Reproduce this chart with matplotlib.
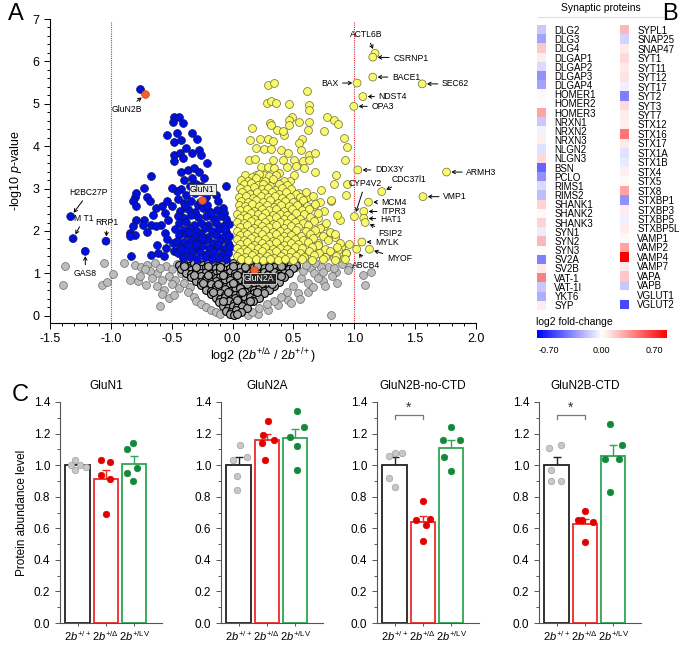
import matplotlib
matplotlib.use('Agg')
import matplotlib.pyplot as plt
import numpy as np
from matplotlib.colors import LinearSegmentedColormap
from matplotlib.lines import Line2D
from matplotlib.ticker import MultipleLocator

plt.rcParams['font.family'] = ['Liberation Sans', 'DejaVu Sans']
plt.rcParams['mathtext.fontset'] = 'custom'
plt.rcParams['mathtext.rm'] = 'Liberation Sans'
plt.rcParams['mathtext.it'] = 'Liberation Sans:italic'
plt.rcParams['mathtext.bf'] = 'Liberation Sans:bold'

# ---------------- DATA: volcano (panel A) ----------------
blue_pts = [
    (-0.76, 5.36),
    (-0.48, 4.70), (-0.44, 4.70), (-0.49, 4.58), (-0.41, 4.54), (-0.33, 4.30), (-0.46, 4.32), (-0.535, 4.27),
    (-0.48, 4.11), (-0.29, 4.17), (-0.425, 4.15), (-0.385, 3.95), (-0.275, 3.92), (-0.33, 3.84), (-0.26, 3.80),
    (-0.485, 3.80), (-0.43, 3.84), (-0.48, 3.64), (-0.41, 3.72), (-0.21, 3.60), (-0.37, 3.44), (-0.425, 3.40),
    (-0.315, 3.48), (-0.275, 3.40), (-0.67, 3.30), (-0.233, 3.25), (-0.055, 3.07), (-0.397, 3.21), (-0.33, 3.25),
    (-0.35, 3.05), (-0.30, 3.10), (-0.26, 3.05), (-0.42, 3.00), (-0.46, 2.95), (-0.50, 3.02), (-0.38, 2.85),
    (-0.31, 2.90), (-0.18, 2.95), (-0.14, 2.85), (-0.22, 2.80), (-0.45, 2.75), (-0.50, 2.60), (-0.40, 2.65),
    (-0.34, 2.70), (-0.28, 2.62), (-0.12, 2.70), (-0.08, 2.55),
    (-0.80, 2.81), (-0.82, 2.70), (-0.79, 2.60), (-0.70, 2.81), (-0.68, 2.70), (-0.63, 2.54), (-0.576, 2.60),
    (-0.535, 2.70), (-0.557, 2.42), (-0.53, 2.25), (-0.59, 2.15), (-0.65, 2.37), (-0.73, 2.27), (-0.796, 2.25),
    (-0.82, 2.11), (-0.74, 2.15), (-0.67, 2.15), (-0.63, 2.12), (-0.84, 1.95), (-0.80, 1.91), (-0.70, 1.97),
    (-0.84, 1.88), (-0.557, 1.95), (-0.535, 1.80), (-0.62, 1.68), (-0.55, 1.60), (-0.49, 1.71), (-0.837, 1.40),
    (-0.67, 1.44), (-0.61, 1.48), (-0.56, 1.42), (-0.48, 1.52), (-0.73, 3.01), (-0.79, 2.89),
    (-0.43, 2.48), (-0.37, 2.52), (-0.31, 2.45), (-0.24, 2.55), (-0.19, 2.47), (-0.13, 2.50), (-0.07, 2.42),
    (-0.45, 2.35), (-0.40, 2.30), (-0.34, 2.38), (-0.28, 2.33), (-0.22, 2.36), (-0.16, 2.30), (-0.10, 2.35), (-0.05, 2.28),
    (-0.44, 2.18), (-0.38, 2.22), (-0.32, 2.15), (-0.26, 2.20), (-0.20, 2.13), (-0.14, 2.19), (-0.08, 2.12), (-0.03, 2.17),
    (-0.47, 2.05), (-0.41, 2.02), (-0.35, 2.07), (-0.29, 2.01), (-0.23, 2.06), (-0.17, 2.00), (-0.11, 2.04), (-0.05, 1.98),
    (-0.44, 1.90), (-0.38, 1.93), (-0.32, 1.87), (-0.26, 1.92), (-0.20, 1.86), (-0.14, 1.91), (-0.08, 1.85), (-0.03, 1.89),
    (-0.46, 1.77), (-0.40, 1.74), (-0.34, 1.79), (-0.28, 1.73), (-0.22, 1.78), (-0.16, 1.72), (-0.10, 1.77), (-0.04, 1.71),
    (-0.43, 1.62), (-0.37, 1.65), (-0.31, 1.60), (-0.25, 1.64), (-0.19, 1.59), (-0.13, 1.63), (-0.07, 1.58), (-0.02, 1.62),
    (-0.45, 1.49), (-0.39, 1.52), (-0.33, 1.47), (-0.27, 1.51), (-0.21, 1.46), (-0.15, 1.50), (-0.09, 1.45), (-0.04, 1.49),
    (-0.41, 1.36), (-0.35, 1.39), (-0.29, 1.34), (-0.23, 1.38), (-0.17, 1.33), (-0.11, 1.37), (-0.05, 1.34),
    (-0.39, 2.58), (-0.27, 2.68), (-0.21, 2.62), (-0.36, 1.98), (-0.25, 1.83), (-0.12, 1.66), (-0.30, 1.70),
    (-0.18, 2.42), (-0.06, 2.05), (-0.42, 1.57),
]

yellow_pts = [
    (0.288, 5.45), (0.337, 5.50), (0.609, 5.31), (0.283, 5.03), (0.316, 5.07), (0.357, 5.01), (0.461, 4.99),
    (0.625, 4.98), (0.625, 4.86), (0.488, 4.68), (0.461, 4.62), (0.549, 4.57), (0.631, 4.57), (0.774, 4.70),
    (0.831, 4.62), (0.87, 4.53), (0.307, 4.54), (0.316, 4.49), (0.159, 4.43), (0.362, 4.39), (0.466, 4.49),
    (0.617, 4.39), (0.755, 4.36), (0.425, 4.27), (0.411, 4.35), (0.914, 4.20), (0.143, 4.15), (0.225, 4.17),
    (0.288, 4.17), (0.335, 4.13), (0.568, 4.17), (0.549, 4.07), (0.938, 3.98), (0.192, 3.95), (0.26, 3.94),
    (0.316, 3.93), (0.398, 3.91), (0.453, 3.84), (0.563, 3.91), (0.631, 3.80), (0.678, 3.84), (0.137, 3.68),
    (0.184, 3.69), (0.329, 3.68), (0.411, 3.68), (0.508, 3.68), (0.576, 3.64), (0.63, 3.68), (0.924, 3.68),
    (0.233, 3.52), (0.288, 3.52), (0.343, 3.48), (0.447, 3.52), (0.521, 3.53), (0.584, 3.48), (0.192, 3.33),
    (0.26, 3.33), (0.384, 3.37), (0.508, 3.33), (0.678, 3.38), (0.851, 3.31), (0.173, 3.17), (0.233, 3.17),
    (0.316, 3.21), (0.398, 3.13), (0.474, 3.17), (0.727, 2.97), (0.831, 3.11), (0.151, 2.97), (0.22, 2.97),
    (0.288, 2.93), (0.37, 2.93), (0.549, 2.89), (0.617, 2.81), (0.94, 3.11), (0.754, 2.11), (0.81, 1.95),
    (0.842, 1.85), (0.892, 1.63), (0.932, 1.48), (0.864, 1.56), (0.782, 1.87), (0.686, 1.95), (0.70, 1.71),
    (0.617, 1.79), (0.658, 1.56), (0.576, 1.48), (0.508, 1.63), (0.782, 1.48), (0.837, 1.36), (0.919, 1.36),
    (0.74, 1.36), (0.645, 1.36), (0.595, 2.50), (0.672, 2.58), (0.576, 2.70), (0.81, 2.70), (0.70, 2.31),
    (0.508, 2.23), (0.453, 2.34), (0.37, 2.42), (0.93, 2.85), (0.88, 2.25), (0.96, 1.70),
    (0.10, 3.31), (0.16, 3.27), (0.22, 3.34), (0.30, 3.29), (0.36, 3.33),
    (0.07, 3.21), (0.13, 3.18), (0.19, 3.24), (0.27, 3.19), (0.33, 3.22), (0.42, 3.17),
    (0.09, 3.10), (0.15, 3.13), (0.21, 3.08), (0.25, 3.12), (0.31, 3.07), (0.38, 3.11), (0.45, 3.09),
    (0.06, 3.01), (0.12, 2.98), (0.18, 3.03), (0.24, 2.99), (0.29, 3.02), (0.35, 2.97), (0.41, 3.01), (0.48, 2.98),
    (0.08, 2.91), (0.14, 2.88), (0.20, 2.93), (0.26, 2.89), (0.32, 2.92), (0.38, 2.87), (0.44, 2.91), (0.52, 2.88), (0.60, 2.92),
    (0.05, 2.80), (0.11, 2.83), (0.17, 2.78), (0.23, 2.82), (0.29, 2.79), (0.35, 2.83), (0.41, 2.78), (0.47, 2.81), (0.55, 2.79), (0.66, 2.83),
    (0.07, 2.71), (0.13, 2.68), (0.19, 2.73), (0.25, 2.69), (0.31, 2.72), (0.37, 2.67), (0.43, 2.71), (0.50, 2.68), (0.58, 2.72), (0.72, 2.69), (0.81, 2.73),
    (0.05, 2.61), (0.10, 2.58), (0.16, 2.63), (0.22, 2.59), (0.28, 2.62), (0.34, 2.57), (0.40, 2.61), (0.46, 2.58), (0.53, 2.62), (0.61, 2.59), (0.68, 2.63),
    (0.06, 2.50), (0.12, 2.53), (0.18, 2.48), (0.24, 2.52), (0.30, 2.49), (0.36, 2.53), (0.42, 2.48), (0.49, 2.51), (0.57, 2.49), (0.63, 2.53), (0.75, 2.48),
    (0.04, 2.41), (0.09, 2.38), (0.15, 2.43), (0.21, 2.39), (0.27, 2.42), (0.33, 2.37), (0.39, 2.41), (0.45, 2.38), (0.52, 2.42), (0.59, 2.39), (0.70, 2.43), (0.86, 2.38),
    (0.06, 2.30), (0.12, 2.33), (0.18, 2.28), (0.24, 2.32), (0.30, 2.29), (0.36, 2.33), (0.42, 2.28), (0.48, 2.31), (0.55, 2.29), (0.64, 2.33),
    (0.04, 2.21), (0.09, 2.18), (0.15, 2.23), (0.21, 2.19), (0.27, 2.22), (0.33, 2.17), (0.39, 2.21), (0.45, 2.18), (0.51, 2.22), (0.58, 2.19), (0.67, 2.23), (0.77, 2.18),
    (0.06, 2.10), (0.12, 2.13), (0.18, 2.08), (0.24, 2.12), (0.30, 2.09), (0.36, 2.13), (0.42, 2.08), (0.48, 2.11), (0.54, 2.09), (0.62, 2.13), (0.72, 2.08),
    (0.04, 2.01), (0.09, 1.98), (0.15, 2.03), (0.21, 1.99), (0.27, 2.02), (0.33, 1.97), (0.39, 2.01), (0.45, 1.98), (0.52, 2.02), (0.60, 1.99), (0.68, 2.03), (0.80, 1.98),
    (0.06, 1.90), (0.12, 1.93), (0.18, 1.88), (0.24, 1.92), (0.30, 1.89), (0.36, 1.93), (0.42, 1.88), (0.48, 1.91), (0.56, 1.89), (0.64, 1.93), (0.74, 1.88), (0.84, 1.92),
    (0.04, 1.81), (0.09, 1.78), (0.15, 1.83), (0.21, 1.79), (0.27, 1.82), (0.33, 1.77), (0.39, 1.81), (0.45, 1.78), (0.51, 1.82), (0.58, 1.79), (0.66, 1.83), (0.78, 1.78),
    (0.06, 1.70), (0.12, 1.73), (0.18, 1.68), (0.24, 1.72), (0.30, 1.69), (0.36, 1.73), (0.42, 1.68), (0.48, 1.71), (0.54, 1.69), (0.62, 1.73), (0.70, 1.68), (0.88, 1.72),
    (0.04, 1.61), (0.09, 1.58), (0.15, 1.63), (0.21, 1.59), (0.27, 1.62), (0.33, 1.57), (0.39, 1.61), (0.45, 1.58), (0.51, 1.62), (0.57, 1.59), (0.65, 1.63), (0.76, 1.58), (0.86, 1.62),
    (0.06, 1.50), (0.12, 1.53), (0.18, 1.48), (0.24, 1.52), (0.30, 1.49), (0.36, 1.53), (0.42, 1.48), (0.48, 1.51), (0.55, 1.49), (0.63, 1.53), (0.71, 1.48), (0.80, 1.52), (0.93, 1.48),
    (0.04, 1.41), (0.10, 1.38), (0.16, 1.43), (0.22, 1.39), (0.28, 1.42), (0.34, 1.37), (0.40, 1.41), (0.46, 1.38), (0.52, 1.42), (0.59, 1.39), (0.67, 1.43), (0.76, 1.38), (0.85, 1.42),
    (0.07, 1.33), (0.13, 1.32), (0.19, 1.34), (0.25, 1.32), (0.31, 1.33), (0.37, 1.32), (0.43, 1.34), (0.50, 1.32), (0.57, 1.33), (0.65, 1.32), (0.74, 1.34), (0.84, 1.32), (0.92, 1.33),
]

gray_pts = [
    (-1.38, 1.18), (-1.39, 0.73), (-1.057, 1.24), (-1.07, 0.73), (-1.035, 0.79), (-0.98, 0.99), (-0.89, 1.24),
    (-0.84, 0.85), (-0.78, 0.81), (-0.71, 0.73), (-0.80, 1.20), (-0.754, 1.16), (-0.70, 1.20), (-0.64, 1.24),
    (-0.60, 0.24), (-0.617, 1.01), (-0.58, 0.85), (-0.62, 0.70), (-0.56, 0.62), (-0.52, 0.42), (-0.76, 0.93),
    (-0.68, 1.05), (-0.55, 1.18), (-0.50, 1.10), (-0.52, 0.95), (-0.47, 0.85), (-0.50, 0.75), (-0.44, 0.65),
    (-0.46, 1.22), (-0.40, 1.15), (-0.42, 1.02), (-0.38, 0.92), (-0.40, 0.78), (-0.35, 0.68), (-0.37, 0.55),
    (-0.32, 0.45), (-0.30, 0.35), (-0.26, 0.28), (-0.22, 0.20), (-0.18, 0.14), (-0.14, 0.08), (-0.10, 0.04),
    (-0.60, 1.12), (-0.66, 0.90), (-0.72, 1.10), (-0.58, 0.52), (-0.48, 0.50),
    (0.81, 0.02), (0.85, 1.04), (0.96, 1.16), (1.07, 0.97), (1.14, 1.04), (0.74, 0.81), (0.617, 0.57),
    (0.535, 0.53), (0.453, 0.37), (0.37, 0.25), (0.288, 0.13), (0.206, 0.05), (0.123, 0.02), (0.78, 1.16),
    (0.837, 1.12), (0.727, 1.16), (0.645, 1.12), (0.672, 1.00), (0.74, 1.04), (0.563, 0.89), (0.95, 1.08),
    (1.09, 0.73), (0.86, 0.78), (0.90, 1.22), (0.70, 0.90), (0.62, 0.78), (0.58, 1.05), (0.66, 0.68),
    (0.50, 0.70), (0.45, 0.55), (0.40, 0.45), (0.34, 0.35), (0.28, 0.28), (0.22, 0.18), (0.16, 0.10),
    (0.55, 0.40), (0.48, 0.30), (0.60, 1.20), (0.52, 1.15), (0.68, 1.24), (0.82, 0.95), (0.76, 0.70),
]

dense_pts = [
    (-0.44, 1.20), (-0.40, 1.23), (-0.36, 1.18), (-0.32, 1.24), (-0.28, 1.21), (-0.24, 1.19), (-0.20, 1.25),
    (-0.16, 1.22), (-0.12, 1.17), (-0.08, 1.23), (-0.04, 1.20), (0.00, 1.24), (0.04, 1.18), (0.08, 1.22),
    (0.12, 1.25), (0.16, 1.19), (0.20, 1.23), (0.24, 1.21), (0.28, 1.17), (0.32, 1.24), (0.36, 1.20),
    (0.40, 1.22), (0.44, 1.18), (0.48, 1.23), (0.52, 1.19),
    (-0.42, 1.11), (-0.38, 1.14), (-0.34, 1.09), (-0.30, 1.13), (-0.26, 1.10), (-0.22, 1.15), (-0.18, 1.08),
    (-0.14, 1.12), (-0.10, 1.14), (-0.06, 1.09), (-0.02, 1.13), (0.02, 1.10), (0.06, 1.14), (0.10, 1.08),
    (0.14, 1.12), (0.18, 1.15), (0.22, 1.09), (0.26, 1.13), (0.30, 1.10), (0.34, 1.14), (0.38, 1.08),
    (0.42, 1.12), (0.46, 1.10), (0.50, 1.13),
    (-0.38, 1.02), (-0.34, 0.99), (-0.30, 1.04), (-0.26, 1.00), (-0.22, 1.03), (-0.18, 0.98), (-0.14, 1.02),
    (-0.10, 1.05), (-0.06, 0.99), (-0.02, 1.03), (0.02, 1.00), (0.06, 1.04), (0.10, 0.98), (0.14, 1.02),
    (0.18, 1.05), (0.22, 0.99), (0.26, 1.03), (0.30, 1.00), (0.34, 1.04), (0.38, 0.98), (0.42, 1.02), (0.46, 1.00),
    (-0.34, 0.92), (-0.30, 0.89), (-0.26, 0.94), (-0.22, 0.90), (-0.18, 0.93), (-0.14, 0.88), (-0.10, 0.92),
    (-0.06, 0.95), (-0.02, 0.89), (0.02, 0.93), (0.06, 0.90), (0.10, 0.94), (0.14, 0.88), (0.18, 0.92),
    (0.22, 0.95), (0.26, 0.89), (0.30, 0.93), (0.34, 0.90), (0.38, 0.94), (0.42, 0.91),
    (-0.30, 0.82), (-0.26, 0.79), (-0.22, 0.84), (-0.18, 0.80), (-0.14, 0.83), (-0.10, 0.78), (-0.06, 0.82),
    (-0.02, 0.85), (0.02, 0.79), (0.06, 0.83), (0.10, 0.80), (0.14, 0.84), (0.18, 0.78), (0.22, 0.82),
    (0.26, 0.85), (0.30, 0.79), (0.34, 0.83), (0.38, 0.80),
    (-0.26, 0.72), (-0.22, 0.69), (-0.18, 0.74), (-0.14, 0.70), (-0.10, 0.73), (-0.06, 0.68), (-0.02, 0.72),
    (0.02, 0.75), (0.06, 0.69), (0.10, 0.73), (0.14, 0.70), (0.18, 0.74), (0.22, 0.68), (0.26, 0.72),
    (0.30, 0.75), (0.34, 0.70),
    (-0.22, 0.62), (-0.18, 0.59), (-0.14, 0.64), (-0.10, 0.60), (-0.06, 0.63), (-0.02, 0.58), (0.02, 0.62),
    (0.06, 0.65), (0.10, 0.59), (0.14, 0.63), (0.18, 0.60), (0.22, 0.64), (0.26, 0.58), (0.30, 0.62),
    (-0.18, 0.52), (-0.14, 0.49), (-0.10, 0.54), (-0.06, 0.50), (-0.02, 0.53), (0.02, 0.48), (0.06, 0.52),
    (0.10, 0.55), (0.14, 0.49), (0.18, 0.53), (0.22, 0.50), (0.26, 0.54),
    (-0.14, 0.42), (-0.10, 0.39), (-0.06, 0.44), (-0.02, 0.40), (0.02, 0.43), (0.06, 0.38), (0.10, 0.42),
    (0.14, 0.45), (0.18, 0.39), (0.22, 0.43),
    (-0.11, 0.32), (-0.07, 0.29), (-0.03, 0.34), (0.01, 0.30), (0.05, 0.33), (0.09, 0.28), (0.13, 0.32), (0.17, 0.35),
    (-0.08, 0.22), (-0.04, 0.19), (0.00, 0.24), (0.04, 0.20), (0.08, 0.23), (0.12, 0.18),
    (-0.05, 0.12), (-0.01, 0.09), (0.03, 0.13), (0.07, 0.10),
    (-0.02, 0.04), (0.01, 0.02), (0.04, 0.05),
    (-0.40, 1.17), (-0.30, 1.16), (-0.20, 1.18), (-0.10, 1.16), (0.00, 1.17), (0.10, 1.16), (0.20, 1.18),
    (0.30, 1.16), (0.40, 1.17), (-0.32, 0.97), (-0.20, 0.96), (-0.08, 0.97), (0.04, 0.96), (0.16, 0.97),
    (0.28, 0.96), (0.40, 0.95), (-0.24, 0.77), (-0.12, 0.76), (0.00, 0.77), (0.12, 0.76), (0.24, 0.77),
    (0.32, 0.76), (-0.16, 0.57), (-0.04, 0.56), (0.08, 0.57), (0.20, 0.56), (-0.08, 0.36), (0.04, 0.37),
    (0.14, 0.36),
]

# labelled proteins: name, log2 fold-change, -log10 p
label_names = ['ACTL6B', 'CSRNP1', 'BACE1', 'BAX', 'SEC62', 'NDST4', 'OPA3', 'DDX3Y', 'ARMH3',
               'CDC37l1', 'VMP1', 'CYP4V2', 'MCM4', 'ITPR3', 'HAT1', 'FSIP2', 'MYLK', 'MYOF', 'ABCB4',
               'H2BC27P', 'M T1', 'RRP1', 'GAS8']
label_x = [1.171, 1.152, 1.152, 1.023, 1.558, 1.07, 0.996, 1.029, 1.758,
           1.226, 1.564, 1.001, 1.117, 1.078, 1.078, 1.09, 1.062, 1.125, 1.02,
           -1.33, -1.31, -1.04, -1.21]
label_y = [6.19, 6.10, 5.63, 5.49, 5.47, 5.17, 4.94, 3.44, 3.39,
           2.93, 2.81, 2.34, 2.68, 2.46, 2.30, 2.20, 1.74, 1.57, 1.57,
           2.34, 1.82, 1.76, 1.52]

# NMDA receptor subunits (highlighted)
nmda_names = ['GluN2B', 'GluN1', 'GluN2A']
nmda_x = [-0.716, -0.249, 0.173]
nmda_y = [5.22, 2.74, 1.08]

# ---------------- DATA: heatmap (panel B) ----------------
syn_left = ['DLG2', 'DLG3', 'DLG4', 'DLGAP1', 'DLGAP2', 'DLGAP3', 'DLGAP4', 'HOMER1', 'HOMER2', 'HOMER3',
            'NRXN1', 'NRXN2', 'NRXN3', 'NLGN2', 'NLGN3', 'BSN', 'PCLO', 'RIMS1', 'RIMS2', 'SHANK1',
            'SHANK2', 'SHANK3', 'SYN1', 'SYN2', 'SYN3', 'SV2A', 'SV2B', 'VAT-1', 'VAT-1I', 'YKT6', 'SYP']
fc_left = [-0.15, -0.25, 0.15, 0.05, -0.10, -0.30, -0.25, 0.02, 0.01, 0.25,
           -0.15, -0.03, 0.04, -0.08, 0.10, -0.42, -0.30, -0.10, -0.18, 0.12,
           0.02, 0.12, -0.05, 0.20, 0.01, -0.35, 0.06, 0.35, -0.15, -0.22, 0.05]
syn_right = ['SYPL1', 'SNAP25', 'SNAP47', 'SYT1', 'SYT11', 'SYT12', 'SYT17', 'SYT2', 'SYT3', 'SYT7',
             'STX12', 'STX16', 'STX17', 'STX1A', 'STX1B', 'STX4', 'STX5', 'STX8', 'STXBP1', 'STXBP3',
             'STXBP5', 'STXBP5L', 'VAMP1', 'VAMP2', 'VAMP4', 'VAMP7', 'VAPA', 'VAPB', 'VGLUT1', 'VGLUT2']
fc_right = [0.20, -0.12, 0.06, 0.10, 0.06, 0.08, -0.04, -0.35, 0.10, 0.05,
            0.04, 0.38, 0.06, -0.08, -0.06, 0.04, 0.02, 0.25, -0.30, 0.05,
            -0.04, 0.05, 0.02, 0.25, 0.70, 0.06, 0.15, -0.15, 0.00, -0.50]

# ---------------- DATA: bar charts (panel C) ----------------
bar_panels = ['GluN1', 'GluN2A', 'GluN2B-no-CTD', 'GluN2B-CTD']
genotypes = [r'$\mathit{2b}^{+/+}$', r'$\mathit{2b}^{+/\Delta}$', r'$\mathit{2b}^{+/\mathrm{LV}}$']
bar_means = [[1.00, 0.91, 1.01], [1.00, 1.16, 1.17], [1.00, 0.64, 1.11], [1.00, 0.63, 1.06]]
bar_sem = [[0.01, 0.06, 0.05], [0.05, 0.04, 0.06], [0.05, 0.04, 0.05], [0.05, 0.03, 0.07]]
dots_glun1 = [[1.03, 1.00, 1.00, 0.97, 0.99], [1.03, 1.02, 0.94, 0.91, 0.69], [1.10, 1.14, 0.95, 0.98, 0.90]]
dots_glun2a = [[1.13, 1.03, 1.05, 0.93, 0.84], [1.28, 1.19, 1.14, 1.16, 1.03], [1.34, 1.18, 1.24, 1.12, 0.97]]
dots_nocttd = [[1.06, 1.08, 1.08, 0.92, 0.86], [0.77, 0.65, 0.66, 0.62, 0.52], [1.24, 1.16, 1.16, 1.05, 0.96]]
dots_ctd = [[1.11, 1.13, 0.97, 0.90, 0.90], [0.71, 0.65, 0.65, 0.64, 0.51], [1.26, 1.13, 1.04, 1.04, 0.83]]
bar_dots = [dots_glun1, dots_glun2a, dots_nocttd, dots_ctd]
significant = [False, False, True, True]

# ---------------- layout / style ----------------
W, H = 685, 646
fig = plt.figure(figsize=(W / 100, H / 100), dpi=100)

def fx(px):
    return px / W

def fy(py):
    return 1 - py / H

# ---- Panel A ----
axA = fig.add_axes([fx(50), fy(323), fx(426), (323 - 19) / H])
axA.set_xlim(-1.5, 2.0)
axA.set_ylim(-0.17, 7.0)
for s in ['top', 'right']:
    axA.spines[s].set_visible(False)
axA.xaxis.set_major_locator(MultipleLocator(0.5))
axA.xaxis.set_minor_locator(MultipleLocator(0.1))
axA.yaxis.set_major_locator(MultipleLocator(1))
axA.yaxis.set_minor_locator(MultipleLocator(0.2))
axA.tick_params(which='both', direction='out', labelsize=9, width=0.7)
axA.tick_params(which='major', length=4)
axA.tick_params(which='minor', length=2)
axA.xaxis.set_major_formatter(plt.FuncFormatter(lambda v, p: f'{v:.1f}'))

for xv in (-1.0, 1.0):
    axA.plot([xv, xv], [-0.17, 6.95], color='#e03030', lw=0.8, ls=(0, (1, 1)), zorder=0)

ms = 32
gx, gy = zip(*gray_pts)
axA.scatter(gx, gy, s=ms, c='#bdbdbd', edgecolors='#666666', linewidths=0.5, zorder=2)
dx, dy = zip(*dense_pts)
axA.scatter(dx, dy, s=ms, c='#a8a8a8', edgecolors='#000000', linewidths=0.8, zorder=2)
bx, by = zip(*blue_pts)
axA.scatter(bx, by, s=ms, c='#0010dd', edgecolors='#10105a', linewidths=0.5, zorder=3)
yx, yy = zip(*yellow_pts)
axA.scatter(yx, yy, s=ms, c='#f9f96a', edgecolors='#6a6a30', linewidths=0.5, zorder=3)
lab_col = ['#0010dd' if v < 0 else '#f9f96a' for v in label_x]
lab_edge = ['#10105a' if v < 0 else '#6a6a30' for v in label_x]
axA.scatter(label_x, label_y, s=ms, c=lab_col, edgecolors=lab_edge, linewidths=0.5, zorder=4)
axA.scatter(nmda_x, nmda_y, s=ms, c='#f2602b', edgecolors='#b04010', linewidths=0.4, zorder=5)

label_text_pos = {
    'ACTL6B': (1.10, 6.63, 'center'), 'CSRNP1': (1.32, 6.08, 'left'), 'BACE1': (1.31, 5.63, 'left'),
    'BAX': (0.87, 5.49, 'right'), 'SEC62': (1.72, 5.47, 'left'), 'NDST4': (1.20, 5.17, 'left'),
    'OPA3': (1.14, 4.94, 'left'), 'DDX3Y': (1.17, 3.44, 'left'), 'ARMH3': (1.92, 3.39, 'left'),
    'CDC37l1': (1.45, 3.22, 'center'), 'VMP1': (1.73, 2.81, 'left'), 'CYP4V2': (1.09, 3.12, 'center'),
    'MCM4': (1.22, 2.68, 'left'), 'ITPR3': (1.22, 2.46, 'left'), 'HAT1': (1.21, 2.28, 'left'),
    'FSIP2': (1.30, 1.95, 'center'), 'MYLK': (1.17, 1.74, 'left'), 'MYOF': (1.37, 1.34, 'center'),
    'ABCB4': (1.10, 1.19, 'center'), 'H2BC27P': (-1.18, 2.91, 'center'), 'M T1': (-1.22, 2.30, 'center'),
    'RRP1': (-1.03, 2.20, 'center'), 'GAS8': (-1.21, 1.00, 'center'),
}
arrow = dict(arrowstyle='->,head_length=0.35,head_width=0.2', lw=0.7, color='k', shrinkA=1, shrinkB=3.5)
for name, xv, yv in zip(label_names, label_x, label_y):
    tx, ty, ha = label_text_pos[name]
    axA.annotate(name, xy=(xv, yv), xytext=(tx, ty), ha=ha, va='center', fontsize=6.2,
                 arrowprops=arrow, zorder=6)
axA.annotate('GluN2B', xy=(nmda_x[0], nmda_y[0]), xytext=(-0.87, 4.87), ha='center', va='center',
             fontsize=6.2, arrowprops=arrow, zorder=6)
axA.text(-0.249, 2.98, 'GluN1', ha='center', va='center', fontsize=6.2, zorder=6,
         bbox=dict(boxstyle='square,pad=0.15', fc='#ececec', ec='#333333', lw=0.6))
axA.text(0.22, 0.88, 'GluN2A', ha='center', va='center', fontsize=6.2, color='white', zorder=6,
         bbox=dict(boxstyle='square,pad=0.15', fc='#222222', ec='#dddddd', lw=0.6))

axA.set_ylabel(r'-log10 $\mathit{p}$-value', fontsize=9, labelpad=6)
axA.set_xlabel(r'log2 ($\mathit{2b}^{+/\Delta}$ / $\mathit{2b}^{+/+}$)', fontsize=9, labelpad=1)
fig.text(fx(8), fy(14), 'A', fontsize=17, va='center', ha='left')

# ---- Panel B ----
cmap = LinearSegmentedColormap.from_list('bwr_fc', ['#0000ff', '#ffffff', '#ff0000'])
rowh_l = 9.17
axL = fig.add_axes([fx(537), fy(30 + 30 * rowh_l + rowh_l / 2), fx(9), 31 * rowh_l / H])
axL.imshow(np.array(fc_left).reshape(-1, 1), cmap=cmap, vmin=-0.7, vmax=0.7, aspect='auto',
           interpolation='nearest')
rowh_r = 9.45
axR = fig.add_axes([fx(620), fy(30 + 29 * rowh_r + rowh_r / 2), fx(9), 30 * rowh_r / H])
axR.imshow(np.array(fc_right).reshape(-1, 1), cmap=cmap, vmin=-0.7, vmax=0.7, aspect='auto',
           interpolation='nearest')
for ax, names in ((axL, syn_left), (axR, syn_right)):
    ax.set_xticks([])
    ax.set_yticks(range(len(names)))
    ax.set_yticklabels(names, fontsize=7)
    ax.yaxis.tick_right()
    ax.tick_params(axis='y', length=0, pad=6)
    for s in ax.spines.values():
        s.set_visible(False)

fig.text(fx(601), fy(8), 'Synaptic proteins', fontsize=7.5, ha='center', va='center')
fig.add_artist(Line2D([fx(538), fx(667)], [fy(17), fy(17)], color='#dedede', lw=0.8))
fig.text(fx(536), fy(322), 'log2 fold-change', fontsize=7.5, ha='left', va='center')
axCB = fig.add_axes([fx(537), fy(338), fx(130), 8 / H])
axCB.imshow(np.linspace(-0.7, 0.7, 256).reshape(1, -1), cmap=cmap, vmin=-0.7, vmax=0.7, aspect='auto')
axCB.set_xticks([])
axCB.set_yticks([])
for s in axCB.spines.values():
    s.set_visible(False)
for lab, px in (('-0.70', 549), ('0.00', 601), ('0.70', 654)):
    fig.text(fx(px), fy(351), lab, fontsize=6.5, ha='center', va='center')
fig.text(fx(662), fy(14), 'B', fontsize=17, va='center', ha='left')

# ---- Panel C ----
dot_offsets = [
    [[-0.09, -0.22, 0.09, -0.08, 0.28], [-0.17, 0.14, -0.18, 0.16, 0.0], [-0.26, -0.03, -0.25, 0.09, -0.03]],
    [[0.05, -0.20, 0.30, -0.05, -0.05], [0.05, -0.15, -0.18, 0.25, -0.05], [0.05, -0.20, 0.30, 0.05, 0.05]],
    [[-0.20, 0.00, 0.25, -0.20, 0.00], [0.00, -0.25, 0.25, 0.10, 0.00], [0.00, -0.30, 0.30, -0.25, 0.00]],
    [[-0.25, 0.15, -0.20, -0.20, 0.15], [0.00, -0.25, -0.10, 0.30, 0.00], [-0.10, 0.30, -0.30, 0.20, -0.10]],
]
bar_edge = ['#222222', '#ee2a2a', '#2fa653']
dot_face = ['#c8c8c8', '#e00000', '#13883a']
dot_edge = ['#a0a0a0', '#e00000', '#13883a']
lefts = [60, 221, 377, 539]
for i, title in enumerate(bar_panels):
    ax = fig.add_axes([fx(lefts[i]), fy(623), fx(102), (623 - 402) / H])
    xs = np.arange(3)
    ax.bar(xs, bar_means[i], width=0.86, facecolor='white', edgecolor=bar_edge, linewidth=1.3, zorder=2)
    for j in range(3):
        ax.errorbar(xs[j], bar_means[i][j], yerr=[[0], [bar_sem[i][j]]], fmt='none',
                    ecolor=bar_edge[j], elinewidth=1.0, capsize=3, capthick=1.0, zorder=1)
        ax.scatter(xs[j] + np.array(dot_offsets[i][j]), bar_dots[i][j], s=22, c=dot_face[j],
                   edgecolors=dot_edge[j], linewidths=0.5, zorder=3)
    ax.set_xlim(-0.62, 2.98)
    ax.set_ylim(0, 1.4)
    ax.yaxis.set_major_locator(MultipleLocator(0.2))
    ax.yaxis.set_minor_locator(MultipleLocator(0.1))
    ax.yaxis.set_major_formatter(plt.FuncFormatter(lambda v, p: f'{v:.1f}'))
    ax.tick_params(axis='y', which='both', direction='out', labelsize=8.5, width=0.7, color='#555555')
    ax.tick_params(axis='y', which='major', length=3.5)
    ax.tick_params(axis='y', which='minor', length=2)
    ax.set_xticks(xs)
    ax.set_xticklabels(genotypes, fontsize=8)
    ax.tick_params(axis='x', length=2.5, width=0.7, color='#555555', direction='out', pad=2)
    for s in ['top', 'right']:
        ax.spines[s].set_visible(False)
    for s in ['left', 'bottom']:
        ax.spines[s].set_color('#555555')
        ax.spines[s].set_linewidth(0.8)
    ax.text(1.0, 1.50, title, ha='center', va='center', fontsize=8.5, clip_on=False)
    if significant[i]:
        ax.plot([0, 0, 1, 1], [1.29, 1.32, 1.32, 1.29], color='#777777', lw=0.9, clip_on=False)
        ax.text(0.5, 1.365, '*', ha='center', va='center', fontsize=10, color='#333333')
    if i == 0:
        ax.set_ylabel('Protein abundance level', fontsize=8.5, labelpad=4)
fig.text(fx(12), fy(395), 'C', fontsize=17, va='center', ha='left')

fig.savefig('out.png', dpi=100)
